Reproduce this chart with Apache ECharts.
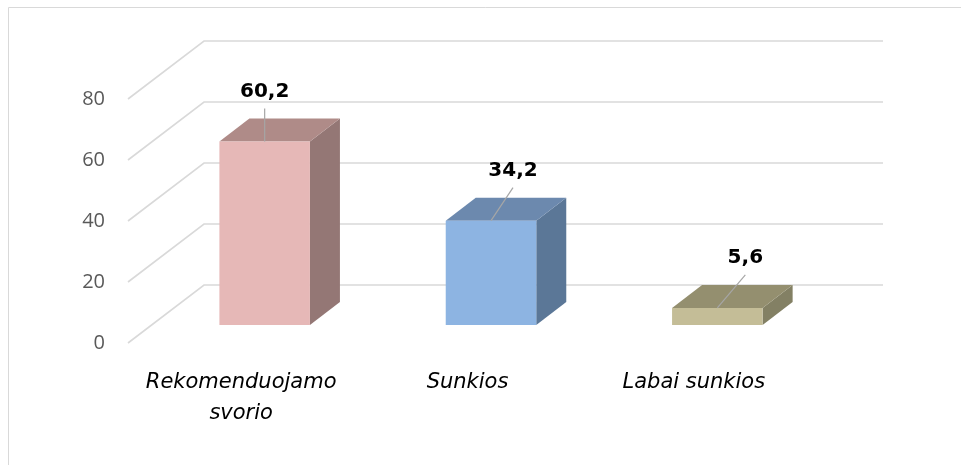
<!DOCTYPE html>
<html>
<head>
<meta charset="utf-8">
<script src="https://cdn.jsdelivr.net/npm/echarts@6/dist/echarts.min.js"></script>
<style>
  html, body { margin: 0; padding: 0; background: #fff; }
  #main { width: 961px; height: 465px; }
</style>
</head>
<body>
<div id="main"></div>
<script>
// chart data
const categories = ['Rekomenduojamo\nsvorio', 'Sunkios', 'Labai sunkios'];
const values = [60.2, 34.2, 5.6];
const yTicks = [0, 20, 40, 60, 80];

// 3d look: colours per bar (front, top, side)
const barColors = [
  { front: '#E6B8B7', top: '#AF8B88', side: '#947775' },
  { front: '#8DB4E2', top: '#6C89AE', side: '#5B7797' },
  { front: '#C4BD97', top: '#948F6F', side: '#838064' }
];
const DEPTH = [76, -58];       // front plane -> back wall
const BAR_SHIFT = [23.5, -18]; // front plane -> bar front face
const BAR_DEPTH = [30, -23];
const LABEL_DX = [0, 22, 28];

var chartDom = document.getElementById('main');
var myChart = echarts.init(chartDom);

const fmt = v => String(v).replace('.', ',');

var option = {
  animation: false,
  textStyle: { fontFamily: 'Open Sans' },
  graphic: [{
    type: 'rect',
    shape: { x: 8.5, y: 7.5, width: 1000, height: 500 },
    style: { fill: 'none', stroke: '#D9D9D9', lineWidth: 1 },
    silent: true
  }],
  grid: { left: 128, right: 154, top: 99, bottom: 122 },
  xAxis: {
    type: 'category',
    data: categories,
    axisLine: { show: false },
    axisTick: { show: false },
    axisLabel: {
      interval: 0,
      margin: 24,
      color: '#000',
      fontSize: 21,
      fontFamily: 'DejaVu Sans',
      fontStyle: 'italic',
      lineHeight: 31
    }
  },
  yAxis: {
    type: 'value',
    min: 0,
    max: 80,
    interval: 20,
    axisLine: { show: false },
    axisTick: { show: false },
    splitLine: { show: false },
    axisLabel: { color: '#595959', fontSize: 20, margin: 23 }
  },
  series: [
    {
      // gridlines: diagonal floor-to-wall lines plus back-wall horizontals
      type: 'custom',
      z: 1,
      silent: true,
      data: yTicks.map(t => [0, t]),
      renderItem: function (params, api) {
        const cs = params.coordSys;
        const y = api.coord([0, api.value(1)])[1];
        return {
          type: 'polyline',
          shape: {
            points: [
              [cs.x, y],
              [cs.x + DEPTH[0], y + DEPTH[1]],
              [cs.x + cs.width + DEPTH[0], y + DEPTH[1]]
            ]
          },
          style: { stroke: '#D9D9D9', lineWidth: 1.6, fill: 'none' }
        };
      }
    },
    {
      type: 'custom',
      z: 2,
      data: values.map((v, i) => [i, v]),
      renderItem: function (params, api) {
        const i = api.value(0);
        const v = api.value(1);
        const base = api.coord([i, 0]);
        const top = api.coord([i, v]);
        const bw = api.size([1, 0])[0] * 0.4;
        const x0 = base[0] + BAR_SHIFT[0] - bw / 2;
        const x1 = x0 + bw;
        const yb = base[1] + BAR_SHIFT[1];
        const yt = top[1] + BAR_SHIFT[1];
        const dx = BAR_DEPTH[0], dy = BAR_DEPTH[1];
        const c = barColors[i];
        const cx = (x0 + x1) / 2;
        const ldx = LABEL_DX[i];
        return {
          type: 'group',
          children: [
            { type: 'polygon', shape: { points: [[x1, yb], [x1 + dx, yb + dy], [x1 + dx, yt + dy], [x1, yt]] }, style: { fill: c.side } },
            { type: 'polygon', shape: { points: [[x0, yt], [x1, yt], [x1 + dx, yt + dy], [x0 + dx, yt + dy]] }, style: { fill: c.top } },
            { type: 'rect', shape: { x: x0, y: yt, width: bw, height: yb - yt }, style: { fill: c.front } },
            { type: 'line', shape: { x1: cx, y1: yt, x2: cx + ldx, y2: yt - 33 }, style: { stroke: '#A6A6A6', lineWidth: 1.2 } },
            {
              type: 'text',
              x: cx + ldx,
              y: yt - 50,
              style: {
                text: fmt(v),
                fill: '#000',
                font: 'bold 20px "DejaVu Sans"',
                align: 'center',
                verticalAlign: 'middle'
              }
            }
          ]
        };
      }
    }
  ]
};

option && myChart.setOption(option);
</script>
</body>
</html>
